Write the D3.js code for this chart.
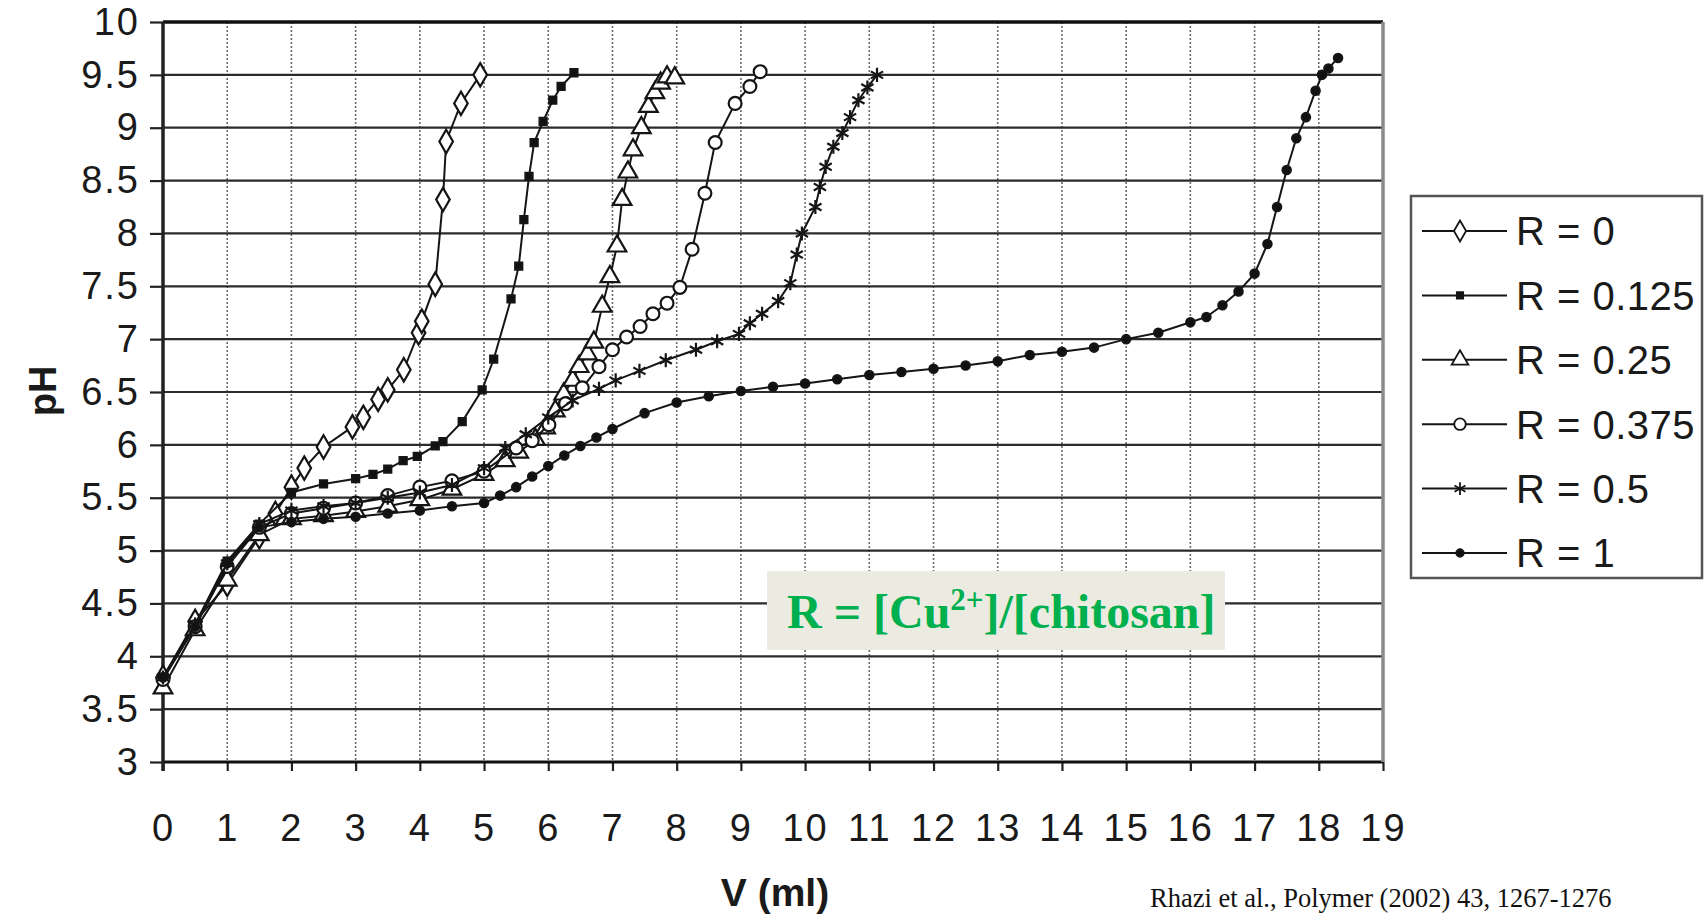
<!DOCTYPE html>
<html>
<head>
<meta charset="utf-8">
<script src="https://cdn.jsdelivr.net/npm/d3@7"></script>
<style>
  body { margin: 0; background: #fff; }
  text { font-family: "Liberation Sans", Arial, sans-serif; }
</style>
</head>
<body>
<svg id="chart" width="1704" height="917"></svg>
<script>
// pH titration curves of chitosan with added Cu2+
const seriesNames = ["R = 0", "R = 0.125", "R = 0.25", "R = 0.375", "R = 0.5", "R = 1"];

const vR0   = [0, 0.5, 1, 1.5, 1.75, 2.0, 2.2, 2.5, 2.95, 3.12, 3.35, 3.5, 3.75, 3.98, 4.03, 4.24, 4.36, 4.41, 4.64, 4.94];
const phR0  = [3.8, 4.33, 4.68, 5.13, 5.35, 5.6, 5.78, 5.98, 6.17, 6.26, 6.43, 6.52, 6.71, 7.06, 7.17, 7.52, 8.32, 8.87, 9.23, 9.5];

const vR125  = [0, 0.5, 1, 1.5, 2, 2.5, 3, 3.27, 3.5, 3.74, 3.96, 4.24, 4.36, 4.66, 4.97, 5.15, 5.42, 5.54, 5.62, 5.7, 5.78, 5.92, 6.07, 6.2, 6.4];
const phR125 = [3.8, 4.3, 4.9, 5.25, 5.55, 5.63, 5.68, 5.72, 5.77, 5.85, 5.89, 5.99, 6.03, 6.22, 6.52, 6.81, 7.38, 7.69, 8.13, 8.54, 8.86, 9.06, 9.26, 9.39, 9.52];

const vR25  = [0, 0.5, 1, 1.5, 2, 2.5, 3, 3.5, 4, 4.5, 5, 5.33, 5.54, 5.8, 5.96, 6.11, 6.24, 6.38, 6.48, 6.61, 6.71, 6.84, 6.96, 7.07, 7.15, 7.24, 7.32, 7.45, 7.56, 7.66, 7.75, 7.85, 7.97];
const phR25 = [3.7, 4.25, 4.72, 5.15, 5.3, 5.33, 5.37, 5.42, 5.48, 5.58, 5.72, 5.85, 5.93, 6.05, 6.16, 6.32, 6.48, 6.61, 6.74, 6.86, 6.97, 7.31, 7.59, 7.88, 8.32, 8.58, 8.79, 9.0, 9.2, 9.33, 9.42, 9.48, 9.47];

const vR375  = [0, 0.5, 1, 1.5, 2, 2.5, 3, 3.5, 4, 4.5, 5, 5.5, 5.75, 6.01, 6.27, 6.53, 6.79, 7.0, 7.22, 7.43, 7.63, 7.85, 8.05, 8.24, 8.44, 8.6, 8.91, 9.14, 9.3];
const phR375 = [3.78, 4.28, 4.85, 5.22, 5.35, 5.4, 5.45, 5.52, 5.6, 5.66, 5.75, 5.97, 6.04, 6.19, 6.39, 6.54, 6.74, 6.9, 7.02, 7.12, 7.24, 7.34, 7.49, 7.85, 8.38, 8.86, 9.23, 9.39, 9.53];

const vR5  = [0, 0.5, 1, 1.5, 2, 2.5, 3, 3.5, 4, 4.5, 5, 5.33, 5.65, 6.0, 6.38, 6.79, 7.05, 7.42, 7.83, 8.3, 8.63, 8.97, 9.14, 9.33, 9.58, 9.77, 9.87, 9.95, 10.16, 10.23, 10.32, 10.44, 10.58, 10.7, 10.83, 10.97, 11.12];
const phR5 = [3.8, 4.3, 4.88, 5.25, 5.38, 5.42, 5.45, 5.5, 5.55, 5.62, 5.78, 5.97, 6.1, 6.26, 6.42, 6.53, 6.61, 6.7, 6.8, 6.9, 6.98, 7.05, 7.15, 7.24, 7.36, 7.53, 7.8, 8.0, 8.25, 8.44, 8.63, 8.82, 8.95, 9.1, 9.26, 9.38, 9.5];

const vR1  = [0, 0.5, 1, 1.5, 2, 2.5, 3, 3.5, 4, 4.5, 5, 5.25, 5.5, 5.75, 6, 6.25, 6.5, 6.75, 7, 7.5, 8, 8.5, 9, 9.5, 10, 10.5, 11, 11.5, 12, 12.5, 13, 13.5, 14, 14.5, 15, 15.5, 16, 16.25, 16.5, 16.75, 17, 17.2, 17.35, 17.5, 17.65, 17.8, 17.95, 18.05, 18.15, 18.3];
const phR1 = [3.8, 4.28, 4.88, 5.22, 5.27, 5.3, 5.32, 5.35, 5.38, 5.42, 5.45, 5.52, 5.6, 5.7, 5.8, 5.9, 5.99, 6.07, 6.15, 6.3, 6.4, 6.46, 6.51, 6.55, 6.58, 6.62, 6.66, 6.69, 6.72, 6.75, 6.79, 6.85, 6.88, 6.92, 7.0, 7.06, 7.16, 7.21, 7.32, 7.45, 7.62, 7.9, 8.25, 8.6, 8.9, 9.1, 9.35, 9.5, 9.56, 9.66];

const xTicks = d3.range(0, 20, 1);
const yTicks = d3.range(3, 10.01, 0.5);

const svg = d3.select("#chart");

const x = d3.scaleLinear().domain([0, 19]).range([163, 1383]);
const y = d3.scaleLinear().domain([3, 10]).range([762, 22]);

// grid
svg.append("g").selectAll("line")
    .data(xTicks.slice(1, -1))
    .enter().append("line")
    .attr("x1", d => x(d)).attr("x2", d => x(d))
    .attr("y1", y(10)).attr("y2", y(3))
    .attr("stroke", "#6a6a6a")
    .attr("stroke-width", 1.6)
    .attr("stroke-dasharray", "2,2");

svg.append("g").selectAll("line")
    .data(yTicks.slice(1, -1))
    .enter().append("line")
    .attr("x1", x(0)).attr("x2", x(19))
    .attr("y1", d => y(d)).attr("y2", d => y(d))
    .attr("stroke", "#2b2b2b")
    .attr("stroke-width", 2.2);

// axes (ticks + labels)
const yAxis = svg.append("g")
    .attr("transform", `translate(${x(0)},0)`)
    .call(d3.axisLeft(y).tickValues(yTicks).tickSize(13).tickPadding(10).tickFormat(d3.format("~g")));
const xAxis = svg.append("g")
    .attr("transform", `translate(0,${y(3)})`)
    .call(d3.axisBottom(x).tickValues(xTicks).tickSize(9).tickPadding(43).tickFormat(d3.format("d")));

[yAxis, xAxis].forEach(a => {
    a.select(".domain").remove();
    a.selectAll(".tick line").attr("stroke", "#222").attr("stroke-width", 2.2);
    a.selectAll("text")
        .attr("font-size", 38)
        .attr("fill", "#1a1a1a")
        .attr("letter-spacing", 2)
        .style("font-family", '"Liberation Sans", Arial, sans-serif');
});

// frame
svg.append("line").attr("x1", x(0)).attr("x2", x(19)).attr("y1", y(10)).attr("y2", y(10))
    .attr("stroke", "#111").attr("stroke-width", 3.5);
svg.append("line").attr("x1", x(0)).attr("x2", x(19)).attr("y1", y(3)).attr("y2", y(3))
    .attr("stroke", "#111").attr("stroke-width", 3);
svg.append("line").attr("x1", x(0)).attr("x2", x(0)).attr("y1", y(10)).attr("y2", y(3) + 9)
    .attr("stroke", "#222").attr("stroke-width", 3.5);
svg.append("line").attr("x1", x(19)).attr("x2", x(19)).attr("y1", y(10)).attr("y2", y(3))
    .attr("stroke", "#8a8a8a").attr("stroke-width", 3.5);

// series
const star = d3.symbolAsterisk || d3.symbolCross;
const styles = [
    { sym: d3.symbolDiamond,  size: 160, fill: "#fff" },
    { sym: d3.symbolSquare,   size: 50,  fill: "#111" },
    { sym: d3.symbolTriangle, size: 150, fill: "#fff" },
    { sym: d3.symbolCircle,   size: 130, fill: "#fff" },
    { sym: star,              size: 140, fill: "none" },
    { sym: d3.symbolCircle,   size: 55,  fill: "#111" }
];
const series = [
    { v: vR0,   ph: phR0 },
    { v: vR125, ph: phR125 },
    { v: vR25,  ph: phR25 },
    { v: vR375, ph: phR375 },
    { v: vR5,   ph: phR5 },
    { v: vR1,   ph: phR1 }
];

const line = d3.line().x(d => x(d[0])).y(d => y(d[1]));

series.forEach((s, i) => {
    const pts = s.v.map((v, k) => [v, s.ph[k]]);
    const g = svg.append("g");
    g.append("path")
        .attr("d", line(pts))
        .attr("fill", "none")
        .attr("stroke", "#151515")
        .attr("stroke-width", 2);
    g.selectAll("path.pt")
        .data(pts)
        .enter().append("path")
        .attr("class", "pt")
        .attr("transform", d => `translate(${x(d[0])},${y(d[1])})`)
        .attr("d", d3.symbol().type(styles[i].sym).size(styles[i].size))
        .attr("fill", styles[i].fill)
        .attr("stroke", "#151515")
        .attr("stroke-width", 2.2);
});

// axis titles
svg.append("text")
    .attr("transform", "translate(56,391) rotate(-90)")
    .attr("text-anchor", "middle")
    .attr("font-size", 38)
    .attr("font-weight", "bold")
    .attr("fill", "#1a1a1a")
    .text("pH");

svg.append("text")
    .attr("x", 775).attr("y", 906)
    .attr("text-anchor", "middle")
    .attr("font-size", 39)
    .attr("font-weight", "bold")
    .attr("fill", "#1a1a1a")
    .text("V (ml)");

// legend
const legend = svg.append("g");
legend.append("rect")
    .attr("x", 1411).attr("y", 196)
    .attr("width", 291).attr("height", 382)
    .attr("fill", "#fff")
    .attr("stroke", "#555")
    .attr("stroke-width", 2.5);

const rowY = d3.scalePoint().domain(seriesNames).range([231, 553]);
seriesNames.forEach((name, i) => {
    const ry = rowY(name);
    legend.append("line")
        .attr("x1", 1422).attr("x2", 1507)
        .attr("y1", ry).attr("y2", ry)
        .attr("stroke", "#151515").attr("stroke-width", 2);
    legend.append("path")
        .attr("transform", `translate(1460,${ry})`)
        .attr("d", d3.symbol().type(styles[i].sym).size(styles[i].size * 0.8))
        .attr("fill", styles[i].fill)
        .attr("stroke", "#151515")
        .attr("stroke-width", 1.8);
    legend.append("text")
        .attr("x", 1516).attr("y", ry)
        .attr("dy", "0.36em")
        .attr("font-size", 40)
        .attr("letter-spacing", 0.5)
        .attr("fill", "#1a1a1a")
        .text(name);
});

// definition box
svg.append("rect")
    .attr("x", 767).attr("y", 571)
    .attr("width", 458).attr("height", 79)
    .attr("fill", "#ecebe1");

const def = svg.append("text")
    .attr("x", 787).attr("y", 628)
    .attr("font-size", 48)
    .attr("font-weight", "bold")
    .attr("fill", "#00b04f")
    .style("font-family", '"Liberation Serif", "Times New Roman", serif');
def.append("tspan").text("R = [Cu");
def.append("tspan").attr("font-size", 31).attr("dy", -18).text("2+");
def.append("tspan").attr("dy", 18).text("]/[chitosan]");

// citation
svg.append("text")
    .attr("x", 1150).attr("y", 907)
    .attr("font-size", 26.5)
    .attr("fill", "#111")
    .style("font-family", '"Liberation Serif", "Times New Roman", serif')
    .text("Rhazi et al., Polymer (2002) 43, 1267-1276");
</script>
</body>
</html>
